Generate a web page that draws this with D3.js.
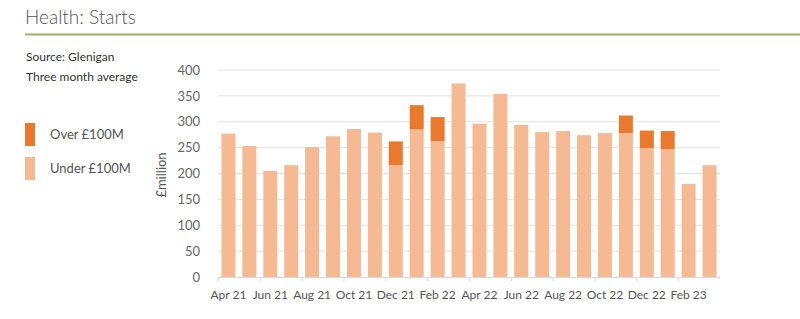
<!DOCTYPE html>
<html>
<head>
<meta charset="utf-8">
<script src="https://cdn.jsdelivr.net/npm/d3@7"></script>
<style>
  body { margin: 0; background: #fff; }
  svg { display: block; font-family: Lato, "Open Sans", sans-serif; }
</style>
</head>
<body>
<svg id="chart" width="800" height="319"></svg>
<script>
// months, Apr 21 .. Mar 23
var months = ["Apr 21","May 21","Jun 21","Jul 21","Aug 21","Sep 21","Oct 21","Nov 21","Dec 21","Jan 22","Feb 22","Mar 22",
              "Apr 22","May 22","Jun 22","Jul 22","Aug 22","Sep 22","Oct 22","Nov 22","Dec 22","Jan 23","Feb 23","Mar 23"];
var under100 = [277,253,205,216,251,272,286,279,216,285,262,374,296,354,294,280,282,274,278,278,249,247,180,216];
var over100  = [0,0,0,0,0,0,0,0,46,47,47,0,0,0,0,0,0,0,0,34,34,35,0,0];
var yTicks = [0,50,100,150,200,250,300,350,400];

var svg = d3.select("#chart");
var margin = { left: 218, right: 80, top: 70, bottom: 42 };
var W = 800, H = 319;

// header
svg.append("text").attr("x", 25).attr("y", 24)
  .style("font-size", "19px").style("font-weight", 300).style("fill", "#555")
  .text("Health: Starts");
svg.append("line").attr("x1", 25).attr("x2", 800).attr("y1", 34.5).attr("y2", 34.5)
  .style("stroke", "#9db563").style("stroke-width", 2);

svg.append("text").attr("x", 26).attr("y", 61).style("font-size", "12px").style("fill", "#333").text("Source: Glenigan");
svg.append("text").attr("x", 26).attr("y", 81).style("font-size", "12px").style("fill", "#333").text("Three month average");

var cOver = "#e8792f", cUnder = "#f5ba93";
var legend = [["Over £100M", cOver, 123], ["Under £100M", cUnder, 157]];
legend.forEach(function (d) {
  svg.append("rect").attr("x", 25).attr("y", d[2]).attr("width", 10).attr("height", 23).style("fill", d[1]);
  svg.append("text").attr("x", 50).attr("y", d[2] + 16).style("font-size", "13px").style("fill", "#555").text(d[0]);
});

var x = d3.scaleBand().domain(months).range([margin.left, W - margin.right]).paddingInner(0.33).paddingOuter(0.165);
var y = d3.scaleLinear().domain([0, 400]).range([H - margin.bottom, margin.top]);

// gridlines
svg.append("g").selectAll("line").data(yTicks.slice(1)).join("line")
  .attr("x1", margin.left).attr("x2", W - margin.right)
  .attr("y1", function (d) { return y(d); }).attr("y2", function (d) { return y(d); })
  .style("stroke", "#e3e3e3").style("stroke-width", 1);

// y axis labels
var yAxis = svg.append("g").attr("transform", "translate(" + (margin.left - 18) + ",0)")
  .call(d3.axisLeft(y).tickValues(yTicks).tickSize(0).tickPadding(0));
yAxis.select(".domain").remove();
yAxis.selectAll("text").style("font-size", "13px").style("fill", "#666").style("font-family", "Lato, sans-serif")
  .attr("dx", "0");

svg.append("text").attr("transform", "translate(166,175) rotate(-90)")
  .attr("text-anchor", "middle").style("font-size", "13px").style("fill", "#555").text("£million");

// bars
var bars = svg.append("g");
bars.selectAll(".under").data(months).join("rect").attr("class", "under")
  .attr("x", function (d) { return x(d); }).attr("width", x.bandwidth())
  .attr("y", function (d, i) { return y(under100[i]); })
  .attr("height", function (d, i) { return y(0) - y(under100[i]); })
  .style("fill", cUnder);
bars.selectAll(".over").data(months.filter(function (d, i) { return over100[i] > 0; })).join("rect").attr("class", "over")
  .attr("x", function (d) { return x(d); }).attr("width", x.bandwidth())
  .attr("y", function (d) { var i = months.indexOf(d); return y(under100[i] + over100[i]); })
  .attr("height", function (d) { var i = months.indexOf(d); return y(0) - y(over100[i]); })
  .style("fill", cOver);

// x axis
var step = x.step();
var base = y(0);
svg.append("line").attr("x1", margin.left).attr("x2", W - margin.right).attr("y1", base + 0.5).attr("y2", base + 0.5)
  .style("stroke", "#d9d9d9");
var even = months.filter(function (d, i) { return i % 2 === 0; });
svg.append("g").selectAll("line").data(even).join("line")
  .attr("x1", function (d) { return x(d) - x.step() * x.paddingInner() / 2 + 0.5 - (x(months[0]) - margin.left) + x.step() * x.paddingInner() / 2; })
  .attr("x2", function (d) { return x(d) - (x(months[0]) - margin.left) + 0.5; })
  .attr("y1", base).attr("y2", base + 4)
  .style("stroke", "#d9d9d9");
svg.append("g").selectAll("text").data(even).join("text")
  .attr("x", function (d) { return x(d) + x.bandwidth() / 2; }).attr("y", base + 22)
  .attr("text-anchor", "middle").style("font-size", "12px").style("fill", "#555").text(function (d) { return d; });
</script>
</body>
</html>
